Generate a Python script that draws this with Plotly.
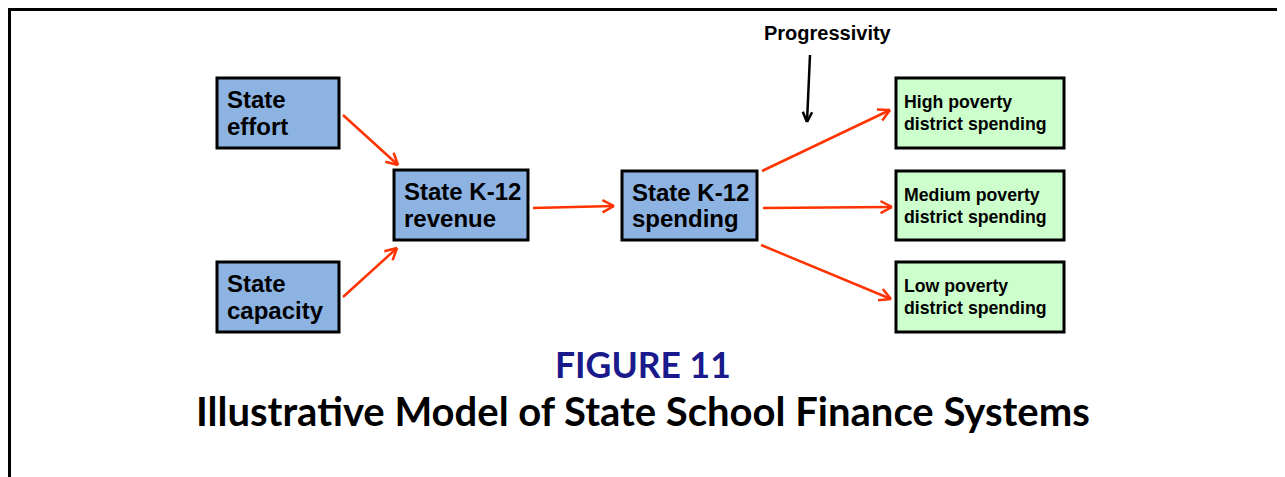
import numpy as np
import plotly.graph_objects as go

# Boxes of the model (labels and which colour family they belong to)
box_lines = [
    ["State", "effort"],
    ["State", "capacity"],
    ["State K-12", "revenue"],
    ["State K-12", "spending"],
    ["High poverty", "district spending"],
    ["Medium poverty", "district spending"],
    ["Low poverty", "district spending"],
]
box_kind = ["blue", "blue", "blue", "blue", "green", "green", "green"]

# Box placement (diagram coordinates, same as the page pixels)
box_left = [217, 217, 394, 622, 896, 896, 896]
box_right = [339, 339, 528, 757, 1064, 1064, 1064]
box_top = [78, 262, 170, 171, 78, 171, 262]
box_bottom = [148, 332, 240, 240, 148, 240, 332]

# Red flow arrows: start and end points
flow_start = [(343, 115), (343, 297), (533, 208), (762, 171), (763, 208), (761, 245)]
flow_end = [(398, 165), (397, 248), (614, 206), (890, 110), (892, 207), (891, 299)]

# Progressivity arrow
prog_label = "Progressivity"
prog_start = (810, 55)
prog_end = (807, 122)

fig_title = "FIGURE 11"
fig_subtitle = "Illustrative Model of State School Finance Systems"

styles = {
    "blue": dict(fill="#8DB3E2", size=24, spacing=26.7, pad=8),
    "green": dict(fill="#CCFFCC", size=17.7, spacing=22, pad=6),
}

RED = "#FF3300"

# the page body has an 8px margin, so the figure starts at (8, 8)
OFF = 8
W, H = 1285, 477


def arrow_xy(p0, p1, head=13, angle=28):
    """Shaft plus open V head, as one polyline with gaps."""
    x0, y0 = p0
    x1, y1 = p1
    d = np.array([x1 - x0, y1 - y0], dtype=float)
    d /= np.hypot(*d)
    xs, ys = [x0, x1, None], [y0, y1, None]
    for sgn in (1, -1):
        a = np.radians(angle) * sgn
        rot = np.array([[np.cos(a), -np.sin(a)], [np.sin(a), np.cos(a)]])
        v = rot @ (-d) * head
        xs += [x1 + v[0], x1, None]
        ys += [y1 + v[1], y1, None]
    return xs, ys


fig = go.Figure()

# Arrows
for p0, p1 in zip(flow_start, flow_end):
    xs, ys = arrow_xy(p0, p1)
    fig.add_trace(go.Scatter(x=xs, y=ys, mode="lines",
                             line=dict(color=RED, width=2.5),
                             hoverinfo="skip", showlegend=False))

xs, ys = arrow_xy(prog_start, prog_end, head=11, angle=25)
fig.add_trace(go.Scatter(x=xs, y=ys, mode="lines",
                         line=dict(color="black", width=2.5),
                         hoverinfo="skip", showlegend=False))

shapes = []
annotations = []

# outer frame (bottom edge runs off the page)
shapes.append(dict(type="rect", xref="x", yref="y", x0=9.5, x1=1283, y0=9.5, y1=490,
                   line=dict(color="black", width=3), fillcolor="rgba(0,0,0,0)"))

for lines, kind, x0, x1, y0, y1 in zip(box_lines, box_kind, box_left, box_right,
                                        box_top, box_bottom):
    st = styles[kind]
    shapes.append(dict(type="rect", xref="x", yref="y", x0=x0, x1=x1, y0=y0, y1=y1,
                       line=dict(color="black", width=3), fillcolor=st["fill"],
                       layer="below"))
    yc = (y0 + y1) / 2
    n = len(lines)
    for i, txt in enumerate(lines):
        annotations.append(dict(
            x=x0 + st["pad"], y=yc + (i - (n - 1) / 2) * st["spacing"],
            xref="x", yref="y", xanchor="left", yanchor="middle",
            text="<b>%s</b>" % txt, showarrow=False,
            font=dict(family="Liberation Sans, Arial", size=st["size"], color="black")))

annotations.append(dict(x=828, y=33, xref="x", yref="y", text="<b>%s</b>" % prog_label,
                        showarrow=False,
                        font=dict(family="Liberation Sans, Arial", size=20, color="black")))

annotations.append(dict(x=643, y=364, xref="x", yref="y", text="<b>%s</b>" % fig_title,
                        showarrow=False,
                        font=dict(family="Lato", size=35.5, color="#1A1A8C")))
annotations.append(dict(x=643, y=411, xref="x", yref="y", text="<b>%s</b>" % fig_subtitle,
                        showarrow=False,
                        font=dict(family="Lato", size=40, color="black")))

fig.update_layout(
    width=W - OFF, height=H - OFF,
    margin=dict(l=0, r=0, t=0, b=0),
    paper_bgcolor="white", plot_bgcolor="white",
    xaxis=dict(range=[OFF, W], visible=False, fixedrange=True),
    yaxis=dict(range=[H, OFF], visible=False, fixedrange=True),
    shapes=shapes, annotations=annotations,
)

fig.write_html("out.html")
